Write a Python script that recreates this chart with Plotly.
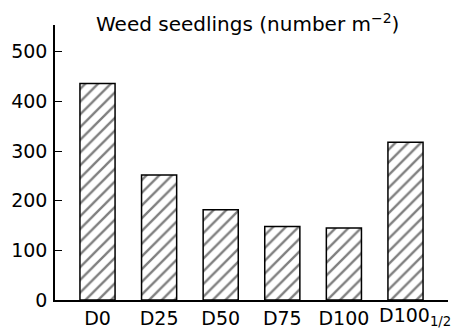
import plotly.graph_objects as go

# Weed seedling density by treatment
categories = ["D0", "D25", "D50", "D75", "D100", "D100\u00bd"]
tick_labels = ["D0", "D25", "D50", "D75", "D100", ""]
last_label = "D100<sub>1/2</sub>"
seedlings = [436, 252, 182, 148, 145, 318]
y_ticks = [0, 100, 200, 300, 400, 500]

FONT = "DejaVu Sans, Liberation Sans, Arial, sans-serif"

fig = go.Figure(
    go.Bar(
        x=categories,
        y=seedlings,
        width=0.57,
        marker=dict(
            color="white",
            line=dict(color="black", width=1.5),
            pattern=dict(shape="/", fgcolor="black", bgcolor="white",
                         size=9, solidity=0.26, fillmode="overlay"),
        ),
    )
)

fig.update_layout(
    width=459,
    height=329,
    margin=dict(l=55, r=11, t=25, b=28.5),
    paper_bgcolor="white",
    plot_bgcolor="white",
    showlegend=False,
    font=dict(family=FONT, size=19, color="black"),
    xaxis=dict(
        range=[-0.69, 5.69],
        tickvals=categories,
        ticktext=tick_labels,
        showline=True, linecolor="black", linewidth=1.5,
        ticks="", showgrid=False, zeroline=False,
        tickangle=0,
        tickfont=dict(size=19),
        automargin=False,
    ),
    yaxis=dict(
        range=[0, 554],
        tickvals=y_ticks,
        showline=True, linecolor="black", linewidth=1.5,
        ticks="inside", ticklen=7, tickwidth=1.2, tickcolor="black",
        showgrid=False, zeroline=False,
        tickfont=dict(size=19),
        ticklabelstandoff=2,
        automargin=False,
    ),
    annotations=[
        dict(
            text="Weed seedlings (number m<sup>\u22122</sup>)",
            xref="paper", yref="paper",
            x=0.49, y=1.0, xanchor="center", yanchor="middle",
            yshift=2,
            showarrow=False,
            font=dict(family=FONT, size=20, color="black"),
        ),
        # last category label, with its subscript hanging to the right
        dict(
            text=last_label,
            xref="x", yref="paper",
            x=categories[-1], y=0, xanchor="center", yanchor="top",
            xshift=9, yshift=-2,
            showarrow=False,
            font=dict(family=FONT, size=19, color="black"),
        ),
    ],
)

fig.write_html("out.html")
